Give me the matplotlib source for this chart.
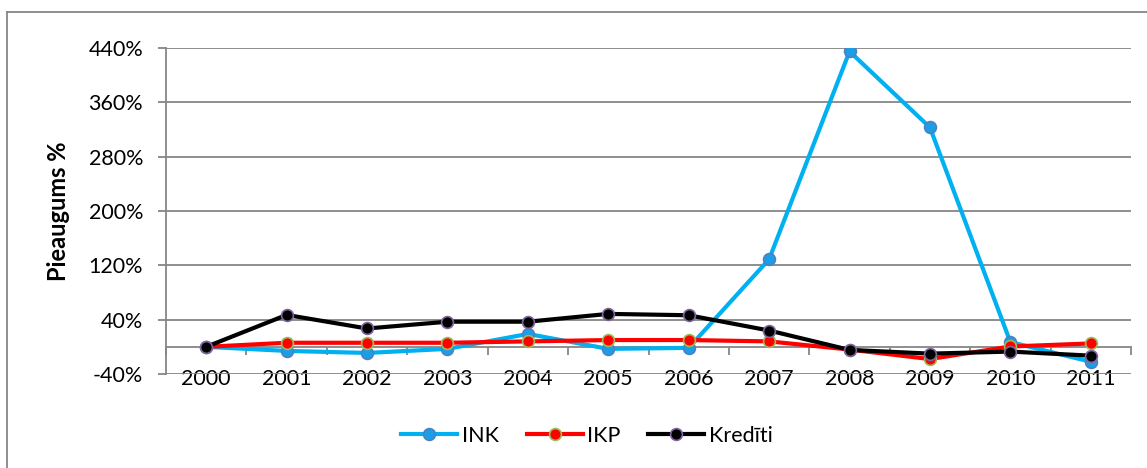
import matplotlib
matplotlib.use("Agg")
import matplotlib.pyplot as plt
from matplotlib.lines import Line2D
import numpy as np

years = ["2000", "2001", "2002", "2003", "2004", "2005",
         "2006", "2007", "2008", "2009", "2010", "2011"]
ink = [0, -6, -9, -3, 19, -3, -1.5, 129, 435, 323, 7, -22]
ikp = [0, 6, 6, 6, 8, 10, 10, 8, -4, -18, 0.5, 5]
krediti = [0, 47, 27, 37, 37, 48.5, 46.5, 24, -4.5, -10, -7, -13]
y_ticks = [-40, 40, 120, 200, 280, 360, 440]

plt.rcParams["font.family"] = ["Lato", "DejaVu Sans"]

W, H = 1147, 468
fig = plt.figure(figsize=(W / 100, H / 100), dpi=100)

# chart-area frame (left and top edges)
frame_col = "#868686"
fig.add_artist(Line2D([7 / W, 7 / W], [-0.01, 1 - 12 / H], transform=fig.transFigure,
                      color=frame_col, lw=1.3))
fig.add_artist(Line2D([7 / W, 1.01], [1 - 12 / H, 1 - 12 / H], transform=fig.transFigure,
                      color=frame_col, lw=1.3))

left, right, top, bottom = 166, 1131, 48, 374
ax = fig.add_axes([left / W, 1 - bottom / H, (right - left) / W, (bottom - top) / H])

x = np.arange(len(years))
grid_col = "#868686"

ax.plot(x, ink, color="#00B0F0", lw=3.0, marker="o", ms=8.5,
        mfc="#1C9DE8", mec="#4F81BD", mew=1.2, zorder=3, label="INK",
        solid_joinstyle="round")
ax.plot(x, ikp, color="#FF0000", lw=3.0, marker="o", ms=8.5,
        mfc="#FF0000", mec="#9BBB59", mew=1.2, zorder=4, label="IKP",
        solid_joinstyle="round")
ax.plot(x, krediti, color="#000000", lw=3.0, marker="o", ms=8.5,
        mfc="#000000", mec="#8064A2", mew=1.2, zorder=5, label="Kredīti",
        solid_joinstyle="round")

ax.set_xlim(-0.5, len(years) - 0.5)
ax.set_ylim(-40, 440)

ax.set_yticks(y_ticks)
ax.set_yticklabels([f"{v}%" for v in y_ticks])
ax.yaxis.grid(True, color=grid_col, lw=1.3)
ax.set_axisbelow(True)

for s in ["top", "right"]:
    ax.spines[s].set_visible(False)
ax.spines["left"].set_color(grid_col)
ax.spines["left"].set_linewidth(1.3)
ax.spines["bottom"].set_position(("data", 0))
ax.spines["bottom"].set_color(grid_col)
ax.spines["bottom"].set_linewidth(1.3)

ax.set_xticks(x)
ax.set_xticklabels(years)
ax.set_xticks(np.arange(-0.5, len(years), 1), minor=True)
ax.tick_params(axis="x", which="major", length=0, pad=16, labelsize=15.5)
ax.tick_params(axis="x", which="minor", length=5.5, width=1.3, color=grid_col,
               direction="out")
ax.tick_params(axis="y", length=5.5, width=1.3, color=grid_col, pad=11, labelsize=15.5)

ax.set_ylabel("Pieaugums %", fontsize=17, fontweight="bold")
ax.yaxis.set_label_coords((58 - left) / (right - left), 0.5)
ax.yaxis.label.set_verticalalignment("center")

leg = fig.legend(loc="center", bbox_to_anchor=(587 / W, 1 - 436 / H), ncol=3,
                 frameon=False, fontsize=15.5, handlelength=2.6, handletextpad=0.2,
                 columnspacing=1.3)

fig.savefig("out.png", dpi=100)
